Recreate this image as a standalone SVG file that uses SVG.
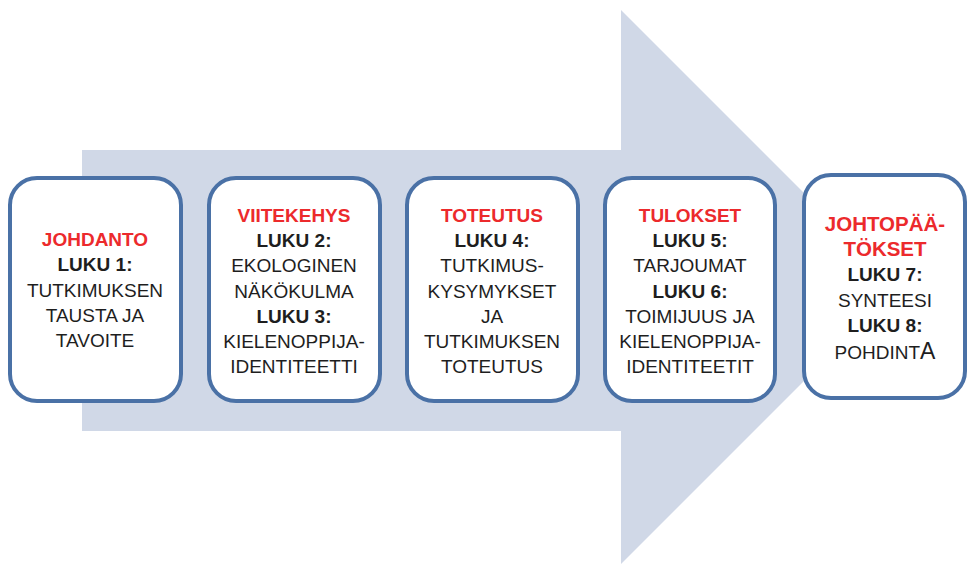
<svg xmlns="http://www.w3.org/2000/svg" width="968" height="564" viewBox="0 0 968 564">
  <style>
    .box { fill: #ffffff; stroke: #4A71A6; stroke-width: 4; }
    text { font-family: "Liberation Sans", Arial, sans-serif; font-size: 19px; fill: #1e1e1e; text-anchor: middle; }
    .head { fill: #EC2A2C; font-weight: bold; }
    .luku { font-weight: bold; }
  </style>

  <!-- big background arrow -->
  <polygon id="arrow" points="82,150 621,150 621,10 898,287 621,564 621,431 82,431" fill="#D0D8E7"/>

  <g id="johdanto">
    <rect class="box" x="10" y="178" width="171" height="223" rx="27"/>
    <text x="95" y="246" class="head">JOHDANTO</text>
    <text x="95" y="271" class="luku">LUKU 1:</text>
    <text x="95" y="297">TUTKIMUKSEN</text>
    <text x="95" y="322">TAUSTA JA</text>
    <text x="95" y="347">TAVOITE</text>
  </g>

  <g id="viitekehys">
    <rect class="box" x="209" y="178" width="171" height="223" rx="27"/>
    <text x="294" y="222" class="head">VIITEKEHYS</text>
    <text x="294" y="247" class="luku">LUKU 2:</text>
    <text x="294" y="272">EKOLOGINEN</text>
    <text x="294" y="298">NÄKÖKULMA</text>
    <text x="294" y="323" class="luku">LUKU 3:</text>
    <text x="294" y="348">KIELENOPPIJA-</text>
    <text x="294" y="373">IDENTITEETTI</text>
  </g>

  <g id="toteutus">
    <rect class="box" x="407" y="178" width="171" height="223" rx="27"/>
    <text x="492" y="222" class="head">TOTEUTUS</text>
    <text x="492" y="247" class="luku">LUKU 4:</text>
    <text x="492" y="272">TUTKIMUS-</text>
    <text x="492" y="298">KYSYMYKSET</text>
    <text x="492" y="323">JA</text>
    <text x="492" y="348">TUTKIMUKSEN</text>
    <text x="492" y="373">TOTEUTUS</text>
  </g>

  <g id="tulokset">
    <rect class="box" x="605" y="178" width="170" height="223" rx="27"/>
    <text x="690" y="222" class="head">TULOKSET</text>
    <text x="690" y="247" class="luku">LUKU 5:</text>
    <text x="690" y="272">TARJOUMAT</text>
    <text x="690" y="298" class="luku">LUKU 6:</text>
    <text x="690" y="323">TOIMIJUUS JA</text>
    <text x="690" y="348">KIELENOPPIJA-</text>
    <text x="690" y="373">IDENTITEETIT</text>
  </g>

  <g id="johtopaatokset">
    <rect class="box" x="804" y="175" width="161" height="223" rx="27"/>
    <text x="885" y="231" class="head" style="font-size:20.5px">JOHTOPÄÄ-</text>
    <text x="885" y="256" class="head" style="font-size:20.5px">TÖKSET</text>
    <text x="885" y="281" class="luku">LUKU 7:</text>
    <text x="885" y="307">SYNTEESI</text>
    <text x="885" y="332" class="luku">LUKU 8:</text>
    <text x="885" y="359">POHDINT<tspan style="font-size:23px">A</tspan></text>
  </g>
</svg>
